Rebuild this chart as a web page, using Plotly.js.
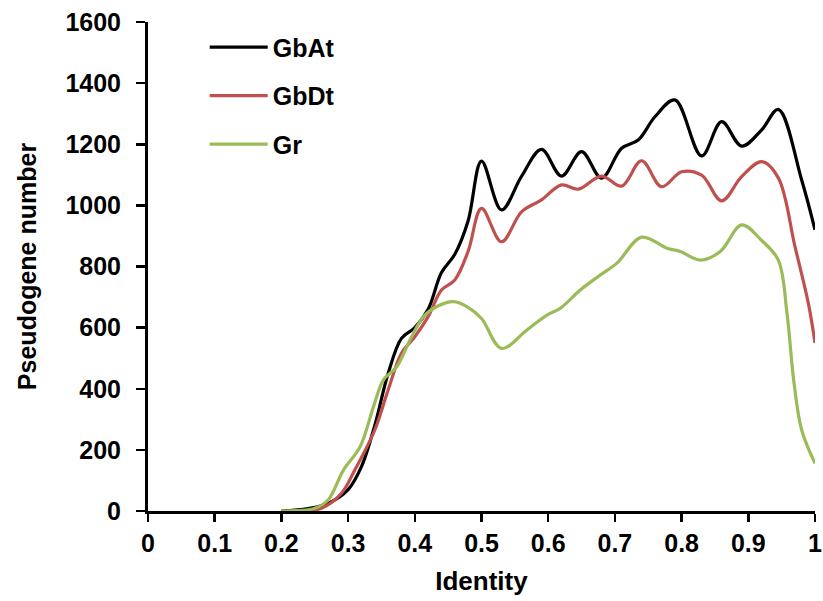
<!DOCTYPE html>
<html>
<head>
<meta charset="utf-8">
<script src="https://cdn.plot.ly/plotly-3.0.1.min.js"></script>
<style>html,body{margin:0;padding:0;background:#fff;}#chart{width:823px;height:601px;}</style>
</head>
<body>
<div id="chart"></div>
<script>
// Series names
const seriesNames = ["GbAt", "GbDt", "Gr"];

// GbAt
const gbAtX = [0.20,0.24,0.27,0.30,0.32,0.34,0.36,0.38,0.40,0.42,0.44,0.46,0.48,0.50,0.53,0.56,0.59,0.62,0.65,0.68,0.71,0.735,0.76,0.79,0.83,0.86,0.89,0.92,0.945,0.98,1.0];
const gbAtY = [0,8,25,70,145,280,450,565,600,660,780,840,950,1145,985,1095,1183,1096,1176,1089,1187,1214,1290,1345,1162,1274,1194,1247,1314,1083,920];

// GbDt
const gbDtX = [0.20,0.26,0.29,0.31,0.34,0.36,0.38,0.40,0.42,0.44,0.46,0.48,0.50,0.53,0.56,0.59,0.62,0.645,0.68,0.71,0.74,0.77,0.80,0.83,0.86,0.89,0.92,0.945,0.97,0.99,1.0];
const gbDtY = [0,9,58,134,265,396,516,570,636,723,756,850,990,881,979,1018,1067,1053,1096,1063,1146,1061,1110,1099,1015,1094,1143,1090,865,680,550];

// Gr
const grX = [0.20,0.25,0.27,0.293,0.318,0.338,0.353,0.373,0.393,0.413,0.433,0.458,0.478,0.50,0.53,0.568,0.598,0.618,0.648,0.678,0.703,0.74,0.778,0.798,0.828,0.858,0.89,0.92,0.945,0.958,0.968,0.98,1.0];
const grY = [0,9,36,134,210,341,429,472,560,636,669,685,669,630,532,592,641,663,723,772,811,896,860,849,821,849,936,885,821,647,429,265,156];

// Axis ticks
const xTickVals = [0,0.1,0.2,0.3,0.4,0.5,0.6,0.7,0.8,0.9,1];
const xTickText = ["0","0.1","0.2","0.3","0.4","0.5","0.6","0.7","0.8","0.9","1"];
const yTickVals = [0,200,400,600,800,1000,1200,1400,1600];

const colors = ["#000000", "#C0504D", "#9BBB59"];
const font = "Liberation Sans, Arial, sans-serif";

const traces = [
  {x: gbAtX, y: gbAtY, name: seriesNames[0], legendgroup: "a"},
  {x: gbDtX, y: gbDtY, name: seriesNames[1], legendgroup: "b"},
  {x: grX, y: grY, name: seriesNames[2], legendgroup: "c"}
].map((t, i) => Object.assign(t, {
  type: "scatter", mode: "lines",
  line: {color: colors[i], width: 3.2, shape: "spline", smoothing: 1}
}));

const layout = {
  width: 823, height: 601,
  margin: {l: 148, r: 8, t: 22, b: 90},
  paper_bgcolor: "#fff", plot_bgcolor: "#fff",
  font: {family: font, color: "#000"},
  showlegend: true,
  legend: {
    x: 0.085, y: 0.995, xanchor: "left", yanchor: "top",
    bgcolor: "rgba(0,0,0,0)",
    font: {family: font, size: 25, color: "#000", weight: "bold"},
    tracegroupgap: 13,
    itemwidth: 58
  },
  xaxis: {
    range: [0, 1], tickvals: xTickVals, ticktext: xTickText,
    showgrid: false, zeroline: false,
    showline: true, linecolor: "#000", linewidth: 3,
    ticks: "outside", ticklen: 8, tickwidth: 2.5, tickcolor: "#000",
    ticklabelstandoff: 0,
    tickfont: {family: font, size: 25, color: "#000", weight: "bold"},
    title: {text: "Identity", font: {family: font, size: 26, color: "#000", weight: "bold"}, standoff: 16}
  },
  yaxis: {
    range: [0, 1600], tickvals: yTickVals,
    showgrid: false, zeroline: false,
    showline: true, linecolor: "#000", linewidth: 3,
    ticks: "outside", ticklen: 9, tickwidth: 2.5, tickcolor: "#000",
    ticklabelstandoff: 10,
    tickfont: {family: font, size: 25, color: "#000", weight: "bold"},
    title: {text: "Pseudogene number", font: {family: font, size: 25, color: "#000", weight: "bold"}, standoff: 22}
  }
};

Plotly.newPlot("chart", traces, layout, {displayModeBar: false, staticPlot: true});
</script>
</body>
</html>
